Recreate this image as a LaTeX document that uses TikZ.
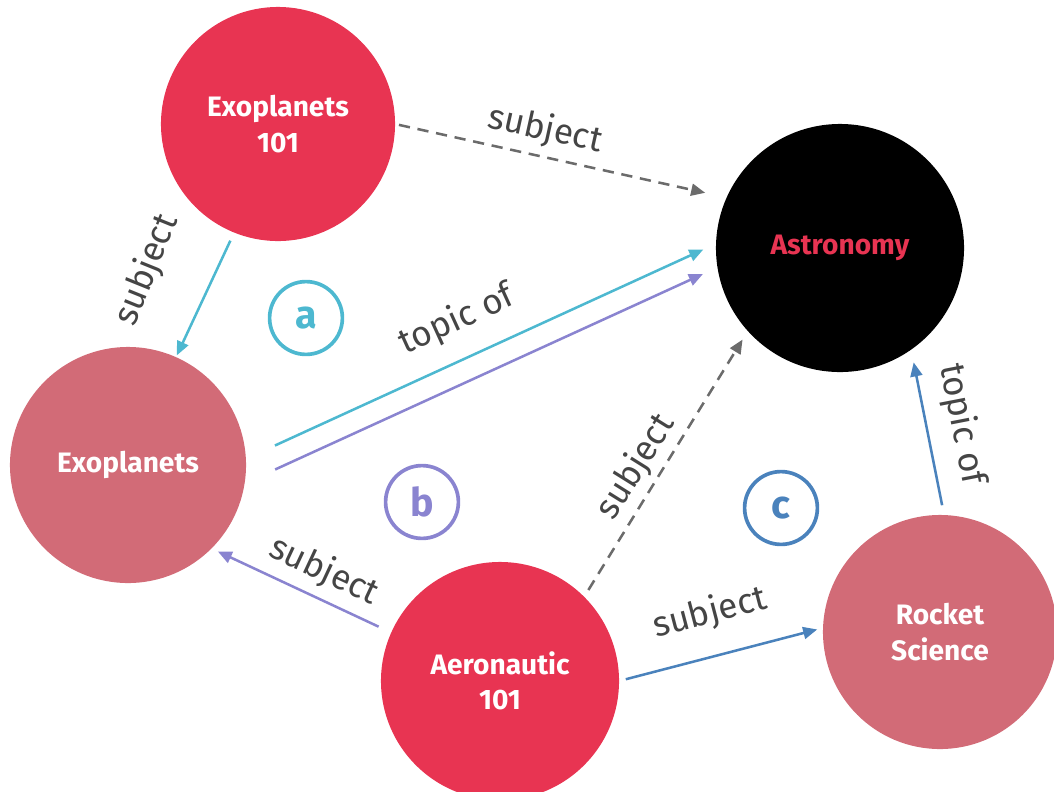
\documentclass[tikz,border=0pt]{standalone}
\usepackage{fontspec}
\setmainfont{Fira Sans}
\usetikzlibrary{arrows.meta}

\definecolor{coursered}{HTML}{E83452}
\definecolor{topicpink}{HTML}{D26B77}
\definecolor{linkcyan}{HTML}{4DB8D0}
\definecolor{linkpurple}{HTML}{8A84D0}
\definecolor{linkblue}{HTML}{4A82BC}
\definecolor{dashgray}{HTML}{6B6B6B}
\definecolor{labelgray}{HTML}{454545}

\begin{document}
\begin{tikzpicture}[x=0.025cm, y=-0.025cm,
  concept/.style={circle, fill=#1, inner sep=0pt, outer sep=0pt,
    text=white, align=center,
    font=\bfseries\fontsize{20}{25}\selectfont},
  edgelabel/.style={text=labelgray, inner sep=0pt,
    font=\fontsize{25}{28}\selectfont},
  marker/.style={circle, draw=#1, line width=2.6pt, minimum size=1.82cm,
    inner sep=0pt, text=#1, font=\bfseries\fontsize{28}{30}\selectfont},
  link/.style={line width=1.8pt, draw=#1,
    -{Triangle[length=10pt, width=8.5pt]}},
  sublink/.style={line width=1.8pt, draw=dashgray, dash pattern=on 8pt off 5.5pt,
    -{Triangle[length=10pt, width=8.5pt]}}
]
\useasboundingbox (0,0) rectangle (1054,791);

% concept circles
\node[concept=coursered, minimum size=5.85cm] (e101) at (278,124) {Exoplanets\\101};
\node[concept=black, minimum size=6.2cm, text=coursered] (astro) at (840,248) {Astronomy};
\node[concept=topicpink, minimum size=5.9cm] (exo) at (128,465) {Exoplanets};
\node[concept=coursered, minimum size=5.95cm] (aero) at (500,681) {Aeronautic\\101};
\node[concept=topicpink, minimum size=5.85cm] (rocket) at (940,632) {Rocket\\Science};

% relations
\draw[sublink, shorten <=0.1cm, shorten >=0.55cm] (e101.0) -- (astro.156);
\draw[link=linkcyan, shorten <=0.225cm, shorten >=0.05cm] (e101.248.4) -- (exo.66.4);
\draw[link=linkcyan, shorten <=0.8cm, shorten >=0.35cm] (exo.3.3) -- (astro.178.2);
\draw[link=linkpurple, shorten <=0.84cm, shorten >=0.4cm] (exo.-9.2) -- (astro.189.4);
\draw[link=linkpurple, shorten <=0.35cm, shorten >=0.175cm] (aero.156.7) -- (exo.-45.4);
\draw[sublink, shorten <=0.2cm, shorten >=0.25cm] (aero.45.2) -- (astro.222.3);
\draw[link=linkblue, shorten <=0.175cm, shorten >=0.15cm] (aero.-0.4) -- (rocket.178.2);
\draw[link=linkblue, shorten <=0.25cm, shorten >=0.325cm] (rocket.88.5) -- (astro.-55.4);

% relation labels
\node[edgelabel, rotate=-12.5] (lab1) at (545,130) {subject};
\node[edgelabel, rotate=68] (lab2) at (147,270) {subject};
\node[edgelabel, rotate=24.5] (lab3) at (457,320) {topic of};
\node[edgelabel, rotate=-25] (lab4) at (324,571) {subject};
\node[edgelabel, rotate=58] (lab5) at (636,467) {subject};
\node[edgelabel, rotate=14.7] (lab6) at (710,613) {subject};
\node[edgelabel, rotate=-79] (lab7) at (962,424) {topic of};

% path markers
\node[marker=linkcyan] (ma) at (306,318) {a};
\node[marker=linkpurple] (mb) at (422,502) {b};
\node[marker=linkblue] (mc) at (781,508) {c};
\end{tikzpicture}
\end{document}
